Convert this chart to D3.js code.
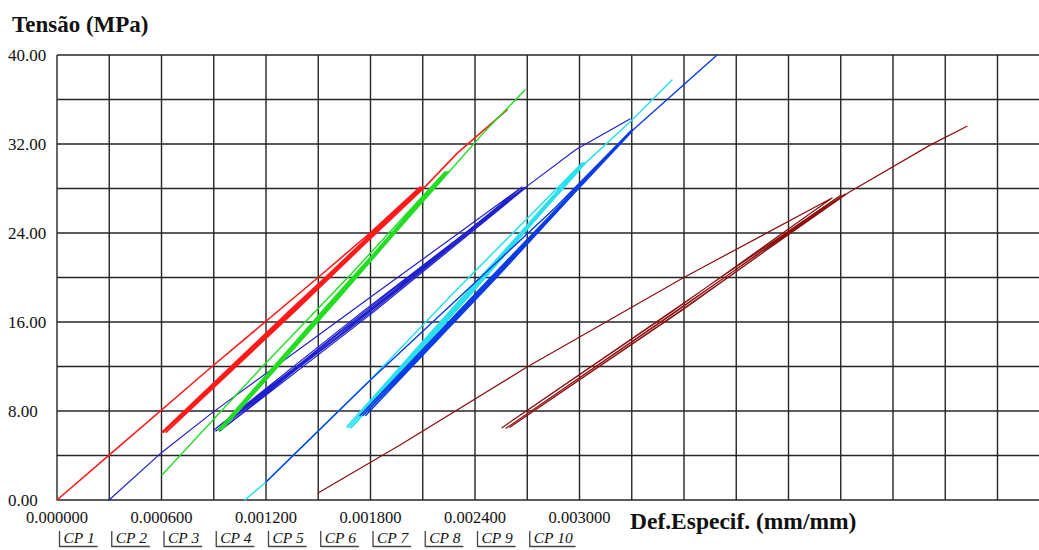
<!DOCTYPE html>
<html>
<head>
<meta charset="utf-8">
<script src="https://cdn.jsdelivr.net/npm/d3@7"></script>
<style>
  html, body { margin: 0; padding: 0; background: #fff; }
  svg { display: block; }
  text { font-family: "Liberation Serif", "Times New Roman", serif; fill: #111; }
</style>
</head>
<body>
<svg id="chart" width="1039" height="550"></svg>
<script>
// Stress–strain records (strain in mm/mm, stress in MPa) for each specimen.
// Each record: first loading, repeated unload/reload cycles, final loading.
const cp1 = [
  [0.000000, 0.0], [0.000299, 4.04], [0.000890, 12.0], [0.001499, 20.0], [0.001797, 24.0], [0.002084, 28.13],
  [0.001340, 17.0], [0.000603, 6.1], [0.001334, 17.0], [0.002090, 28.0],
  [0.001347, 17.0], [0.000611, 6.1], [0.001341, 17.0], [0.002095, 28.1],
  [0.001354, 17.0], [0.000619, 6.2], [0.001348, 17.0], [0.002100, 28.0],
  [0.001361, 17.0], [0.000627, 6.1], [0.001355, 17.0], [0.002105, 28.1],
  [0.001368, 17.0], [0.000635, 6.2], [0.001362, 17.0], [0.002110, 28.1],
  [0.002300, 31.2], [0.002584, 35.06]
];
const cp2 = [
  [0.000299, 0.0], [0.000603, 4.3], [0.000896, 7.9], [0.001797, 18.2], [0.002670, 28.13],
  [0.001790, 17.0], [0.000901, 6.3], [0.001760, 17.0], [0.002676, 28.0],
  [0.001802, 17.0], [0.000912, 6.2], [0.001772, 17.0], [0.002682, 28.1],
  [0.001814, 17.0], [0.000923, 6.3], [0.001784, 17.0], [0.002686, 28.0],
  [0.001826, 17.0], [0.000934, 6.2], [0.001796, 17.0], [0.002690, 28.1],
  [0.002980, 31.5], [0.003290, 34.25]
];
const cp3 = [
  [0.000603, 2.25], [0.001180, 12.0], [0.001700, 20.5], [0.002228, 29.5],
  [0.001586, 18.0], [0.000924, 6.3], [0.001580, 18.0], [0.002232, 29.4],
  [0.001592, 18.0], [0.000931, 6.3], [0.001586, 18.0], [0.002237, 29.5],
  [0.001598, 18.0], [0.000938, 6.4], [0.001592, 18.0], [0.002242, 29.4],
  [0.001604, 18.0], [0.000945, 6.3], [0.001598, 18.0], [0.002247, 29.5],
  [0.001610, 18.0], [0.000952, 6.4], [0.001604, 18.0], [0.002252, 29.5],
  [0.002460, 33.2], [0.002687, 36.85]
];
const cp6 = [
  [0.001079, 0.0], [0.001194, 1.53], [0.001780, 10.5], [0.002257, 18.3], [0.003015, 30.3],
  [0.002348, 18.5], [0.001665, 6.6], [0.002342, 18.5], [0.003020, 30.2],
  [0.002355, 18.5], [0.001673, 6.5], [0.002349, 18.5], [0.003024, 30.3],
  [0.002362, 18.5], [0.001681, 6.6], [0.002356, 18.5], [0.003028, 30.2],
  [0.002369, 18.5], [0.001689, 6.5], [0.002363, 18.5], [0.003032, 30.3],
  [0.002376, 18.5], [0.001697, 6.6], [0.002370, 18.5], [0.003035, 30.3],
  [0.003302, 34.16], [0.003531, 37.75]
];
const cp4 = [
  [0.001200, 1.62], [0.001780, 10.5], [0.002859, 26.25], [0.003302, 33.3],
  [0.002496, 20.0], [0.001740, 7.6], [0.002490, 20.0], [0.003298, 33.2],
  [0.002503, 20.0], [0.001748, 7.7], [0.002497, 20.0], [0.003306, 33.3],
  [0.002510, 20.0], [0.001756, 7.6], [0.002504, 20.0], [0.003300, 33.1],
  [0.002517, 20.0], [0.001764, 7.7], [0.002511, 20.0], [0.003306, 33.3],
  [0.002524, 20.0], [0.001772, 7.6], [0.002518, 20.0], [0.003310, 33.3],
  [0.003790, 40.0]
];
const cp7 = [
  [0.001499, 0.63], [0.001970, 4.94], [0.002699, 11.96], [0.003594, 19.96], [0.004450, 27.15],
  [0.003539, 17.0], [0.002555, 6.5], [0.003532, 17.0], [0.004500, 27.4],
  [0.003562, 17.0], [0.002578, 6.45], [0.003555, 17.0], [0.004525, 27.5],
  [0.003585, 17.0], [0.002600, 6.55], [0.003578, 17.0], [0.004545, 27.65],
  [0.005013, 31.9], [0.005225, 33.6]
];

// drawing order: later records are painted over earlier ones
const seriesData = [cp1, cp2, cp3, cp6, cp4, cp7];
const seriesColors = ["#ff1a1a", "#2020cc", "#22dd22", "#2ae0ee", "#0a3ce6", "#8b0f0f"];
const seriesWidths = [1.6, 1.2, 1.4, 1.5, 1.4, 1.2];

const legendLabels = ["CP 1", "CP 2", "CP 3", "CP 4", "CP 5", "CP 6", "CP 7", "CP 8", "CP 9", "CP 10"];
const xTickValues = [0, 0.0006, 0.0012, 0.0018, 0.0024, 0.0030];
const yTickValues = [0, 8, 16, 24, 32, 40];

const svg = d3.select("#chart");
const W = 1039;

const x = d3.scaleLinear().domain([0, 0.0057]).range([57, 57 + 19 * 52.25]);
const y = d3.scaleLinear().domain([0, 40]).range([500, 55]);

// grid
const grid = svg.append("g").attr("stroke", "#262626").attr("stroke-width", 1.4);
grid.selectAll("line.h").data(d3.range(0, 40.001, 4)).enter().append("line")
  .attr("x1", x(0)).attr("x2", W).attr("y1", d => y(d)).attr("y2", d => y(d));
grid.selectAll("line.v").data(d3.range(0, 19).map(i => i * 0.0003)).enter().append("line")
  .attr("x1", d => x(d)).attr("x2", d => x(d)).attr("y1", y(40)).attr("y2", y(0));

// curves
const line = d3.line().x(d => x(d[0])).y(d => y(d[1]));
svg.append("g").selectAll("path").data(seriesData).enter().append("path")
  .attr("d", line)
  .attr("fill", "none")
  .attr("stroke", (d, i) => seriesColors[i])
  .attr("stroke-width", (d, i) => seriesWidths[i])
  .attr("stroke-linejoin", "round")
  .attr("stroke-linecap", "round");

// axis labels
svg.append("g").selectAll("text").data(yTickValues).enter().append("text")
  .attr("x", 8).attr("y", d => y(d)).attr("dy", "0.35em")
  .attr("font-size", 17)
  .text(d => d3.format(".2f")(d));

svg.append("g").selectAll("text").data(xTickValues).enter().append("text")
  .attr("x", d => x(d)).attr("y", 523).attr("text-anchor", "middle")
  .attr("font-size", 16.5)
  .text(d => d3.format(".6f")(d));

svg.append("text").attr("x", 12).attr("y", 32)
  .attr("font-size", 23).attr("font-weight", "bold")
  .text("Tensão (MPa)");

svg.append("text").attr("x", 630).attr("y", 529)
  .attr("font-size", 23.5).attr("font-weight", "bold")
  .text("Def.Especif. (mm/mm)");

// legend
const leg = svg.append("g").selectAll("g").data(legendLabels).enter().append("g")
  .attr("transform", (d, i) => `translate(${x(i * 0.0003) + 2.5},0)`);
leg.append("text").attr("x", 4).attr("y", 543)
  .attr("font-size", 15.5).attr("font-style", "italic")
  .text(d => d);
leg.each(function () {
  const g = d3.select(this);
  const w = g.select("text").node().getComputedTextLength();
  g.append("line").attr("x1", 0).attr("x2", 0).attr("y1", 531).attr("y2", 547)
    .attr("stroke", "#444").attr("stroke-width", 1.3);
  g.append("line").attr("x1", 0).attr("x2", w + 7).attr("y1", 546.5).attr("y2", 546.5)
    .attr("stroke", "#444").attr("stroke-width", 1.3);
});
</script>
</body>
</html>
